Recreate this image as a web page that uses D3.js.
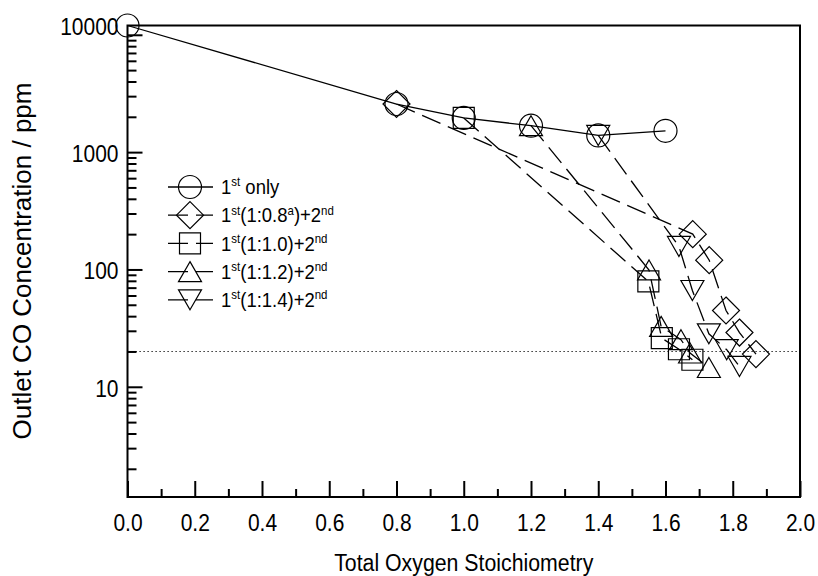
<!DOCTYPE html>
<html><head><meta charset="utf-8">
<script src="https://cdn.jsdelivr.net/npm/d3@7"></script>
<style>
body{margin:0;background:#fff}
svg{display:block}
text{font-family:"Liberation Sans",Arial,Helvetica,sans-serif;fill:#000}
</style>
</head><body>
<svg id="chart" width="818" height="576"></svg>
<script>
// ---------- data ----------
const xMajorTicks = [0, 0.2, 0.4, 0.6, 0.8, 1.0, 1.2, 1.4, 1.6, 1.8, 2.0];
const xMinorTicks = [0.1, 0.3, 0.5, 0.7, 0.9, 1.1, 1.3, 1.5, 1.7, 1.9];
const yMajorTicks = [10, 100, 1000, 10000];
const yMinorTicks = [2,3,4,5,6,7,8,9,20,30,40,50,60,70,80,90,200,300,400,500,600,700,800,900,2000,3000,4000,5000,6000,7000,8000,9000];

const firstOnlyX = [0, 0.8, 1.0, 1.2, 1.4, 1.6];
const firstOnlyY = [12000, 2570, 1955, 1680, 1387, 1520];

const r08X = [0.8, 1.681, 1.730, 1.780, 1.820, 1.869];
const r08Y = [2570, 200, 120, 44.7, 29.0, 19.0];

const r10X = [1.0, 1.549, 1.589, 1.640, 1.680];
const r10Y = [1955, 79, 26, 20.9, 17.0];

const r12X = [1.2, 1.551, 1.587, 1.646, 1.673, 1.729];
const r12Y = [1680, 99, 32.7, 25.2, 19.4, 14.6];

const r14X = [1.4, 1.640, 1.680, 1.729, 1.782, 1.820];
const r14Y = [1387, 157, 66.2, 28.3, 20.7, 14.9];

const limitValue = 20;

const seriesNames = ["1st only", "1st(1:0.8a)+2nd", "1st(1:1.0)+2nd", "1st(1:1.2)+2nd", "1st(1:1.4)+2nd"];
const xTitle = "Total Oxygen Stoichiometry";
const yTitle = "Outlet CO Concentration / ppm";

// ---------- layout ----------
const svg = d3.select("#chart");
const L = 127.5, R = 800, T = 25.5, B = 497;
const VS = 1.12; // vertical stretch of text

const x = d3.scaleLinear().domain([0, 2]).range([L, R]);
const y = d3.scaleLog().domain([1.15, 12000]).range([B, T]);

function markerPath(type) {
  switch (type) {
    case "circle": return "M-11.5,0A11.5,11.5 0 1,0 11.5,0A11.5,11.5 0 1,0 -11.5,0Z";
    case "diamond": return "M0,-13.5L13.5,0L0,13.5L-13.5,0Z";
    case "square": return "M-10.5,-10.5H10.5V10.5H-10.5Z";
    case "up": return "M0,-10L11.5,10H-11.5Z";
    case "down": return "M0,10L11.5,-10H-11.5Z";
  }
}

const series = [
  {xs: firstOnlyX, ys: firstOnlyY, shape: "circle", dash: null},
  {xs: r08X, ys: r08Y, shape: "diamond", dash: "20,8"},
  {xs: r10X, ys: r10Y, shape: "square", dash: "20,8"},
  {xs: r12X, ys: r12Y, shape: "up", dash: "20,8"},
  {xs: r14X, ys: r14Y, shape: "down", dash: "20,8"}
];

// dotted limit line
svg.append("line")
  .attr("x1", L).attr("x2", R)
  .attr("y1", y(limitValue)).attr("y2", y(limitValue))
  .attr("stroke", "#000").attr("stroke-width", 1.1)
  .attr("stroke-dasharray", "1.2,2.8");

// axes
const xMajor = svg.append("g").attr("transform", `translate(0,${B})`)
  .call(d3.axisBottom(x).tickValues(xMajorTicks).tickSize(-16).tickFormat(d3.format(".1f")));
const xMinor = svg.append("g").attr("transform", `translate(0,${B})`)
  .call(d3.axisBottom(x).tickValues(xMinorTicks).tickSize(-8).tickFormat(""));
const yMajor = svg.append("g").attr("transform", `translate(${L},0)`)
  .call(d3.axisLeft(y).tickValues(yMajorTicks).tickSize(-15).tickFormat(d3.format("d")));
const yMinor = svg.append("g").attr("transform", `translate(${L},0)`)
  .call(d3.axisLeft(y).tickValues(yMinorTicks).tickSize(-9).tickFormat(""));

[xMajor, xMinor, yMajor, yMinor].forEach(g => {
  g.select(".domain").remove();
  g.selectAll(".tick line").attr("stroke", "#000").attr("stroke-width", 2);
});

xMajor.selectAll(".tick text")
  .attr("y", null).attr("dy", "0.35em")
  .attr("font-size", 21)
  .attr("transform", `translate(0,26) scale(1,${VS})`);

yMajor.selectAll(".tick text")
  .attr("x", null).attr("dy", "0.35em")
  .attr("font-size", 21).attr("text-anchor", "end")
  .attr("transform", d => `translate(-9,${d === 10000 ? -9 : 1}) scale(1,${VS})`);

// frame
svg.append("rect")
  .attr("x", L).attr("y", T).attr("width", R - L).attr("height", B - T)
  .attr("fill", "none").attr("stroke", "#000").attr("stroke-width", 2);

// lines
const line = d3.line().x(d => x(d[0])).y(d => y(d[1]));
series.forEach(s => {
  const pts = s.xs.map((v, i) => [v, s.ys[i]]);
  svg.append("path").datum(pts)
    .attr("d", line)
    .attr("fill", "none").attr("stroke", "#000").attr("stroke-width", 1.3)
    .attr("stroke-dasharray", s.dash);
});
// markers
series.forEach(s => {
  const pts = s.xs.map((v, i) => [v, s.ys[i]]);
  svg.append("g").selectAll("path").data(pts).join("path")
    .attr("d", markerPath(s.shape))
    .attr("transform", d => `translate(${x(d[0])},${y(d[1])})`)
    .attr("fill", "none").attr("stroke", "#000").attr("stroke-width", 1.2);
});

// legend
const legend = svg.append("g");
const legY0 = 187, legDY = 28.2;
series.forEach((s, i) => {
  const ly = legY0 + i * legDY;
  legend.append("line").attr("x1", 168).attr("x2", 213).attr("y1", ly).attr("y2", ly)
    .attr("stroke", "#000").attr("stroke-width", 1.3)
    .attr("stroke-dasharray", s.dash ? s.dash : null);
  legend.append("path").attr("d", markerPath(s.shape))
    .attr("transform", `translate(190,${ly})`)
    .attr("fill", "none").attr("stroke", "#000").attr("stroke-width", 1.2);
  const t = legend.append("text")
    .attr("transform", `translate(221,${ly}) scale(1,${VS})`)
    .attr("dy", "0.35em").attr("font-size", 18.5);
  const name = seriesNames[i];
  const parts = [];
  if (i === 0) {
    parts.push(["1", false], ["st", true], [" only", false]);
  } else {
    const m = name.match(/^1st\((.*?)\)\+2nd$/);
    const inner = m[1];
    parts.push(["1", false], ["st", true]);
    if (inner.endsWith("a")) {
      parts.push(["(" + inner.slice(0, -1), false], ["a", true], [")+2", false]);
    } else {
      parts.push(["(" + inner + ")+2", false]);
    }
    parts.push(["nd", true]);
  }
  let raised = false;
  parts.forEach(([str, sup]) => {
    const sp = t.append("tspan").text(str);
    if (sup && !raised) { sp.attr("dy", -7).attr("font-size", 11.5); raised = true; }
    else if (sup) { sp.attr("font-size", 11.5); }
    else if (!sup && raised) { sp.attr("dy", 7); raised = false; }
  });
});

// axis titles
svg.append("text")
  .attr("transform", `translate(${(L + R) / 2},571) scale(1,${VS})`)
  .attr("text-anchor", "middle").attr("font-size", 21.3)
  .text(xTitle);
svg.append("text")
  .attr("transform", `translate(31,261) rotate(-90)`)
  .attr("text-anchor", "middle").attr("font-size", 26)
  .text(yTitle);
</script>
</body></html>
